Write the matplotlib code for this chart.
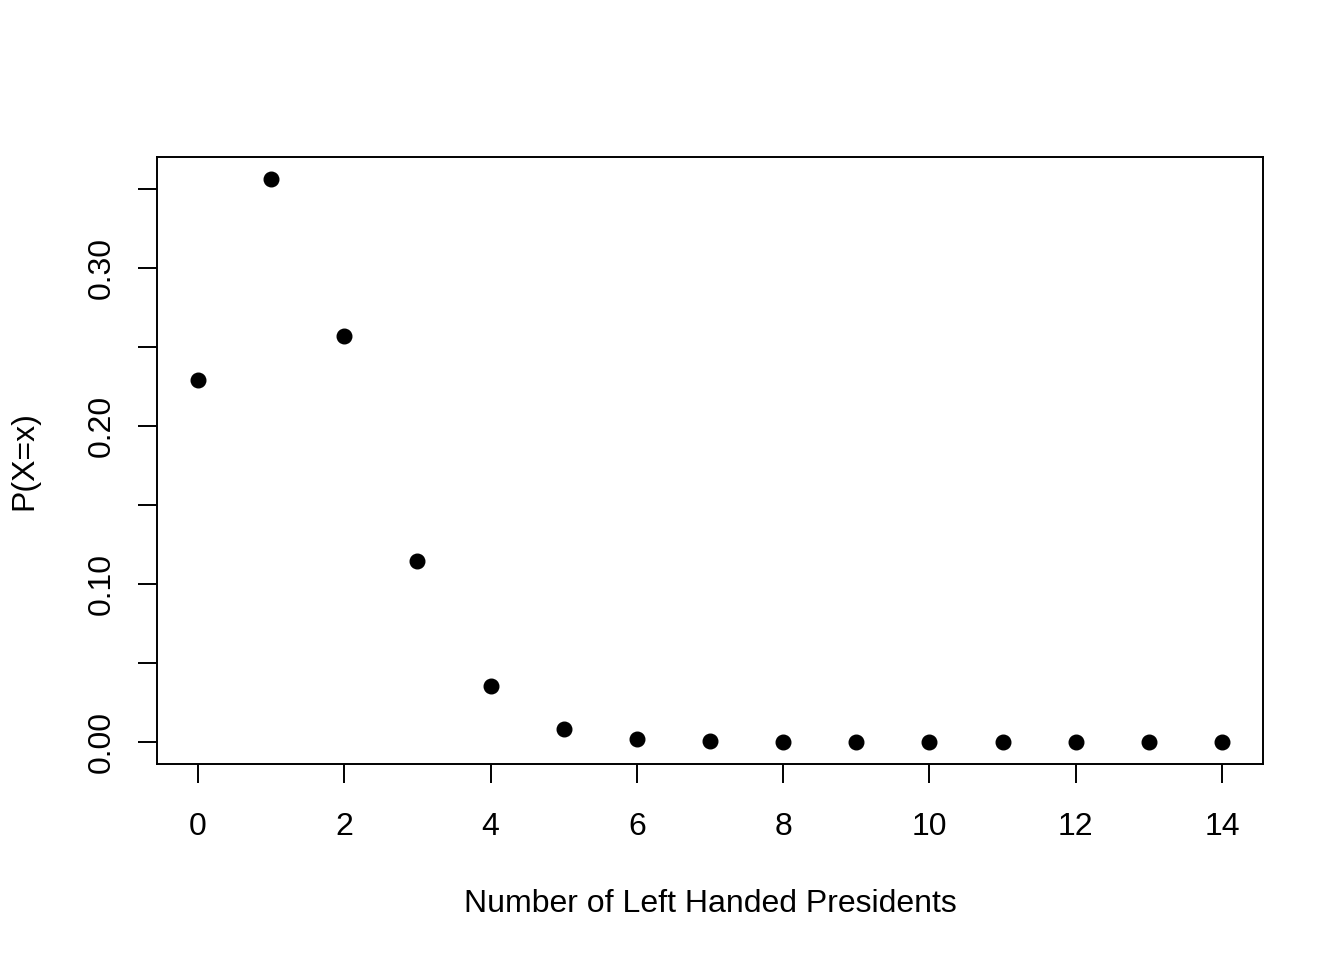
import matplotlib.pyplot as plt
import numpy as np

plt.rcParams['font.family'] = ['Liberation Sans', 'DejaVu Sans']

# значения
n_left = np.arange(0, 15)
prob = [0.2288, 0.3559, 0.2570, 0.1142, 0.0349, 0.0078, 0.0013, 0.0002,
        0.0000, 0.0000, 0.0000, 0.0000, 0.0000, 0.0000, 0.0000]
x_ticks = [0, 2, 4, 6, 8, 10, 12, 14]
y_ticks = [0.00, 0.05, 0.10, 0.15, 0.20, 0.25, 0.30, 0.35]
y_labels = ['0.00', '', '0.10', '', '0.20', '', '0.30', '']

fs = 23

fig = plt.figure(figsize=(13.44, 9.6), dpi=100)
ax = fig.add_axes([157 / 1344, 1 - 764 / 960, (1263 - 157) / 1344, (764 - 157) / 960])

ax.plot(n_left, prob, 'o', color='black', markersize=10.5)

# R-style 4% extension
xr = max(n_left) - min(n_left)
yr = max(prob) - min(prob)
ax.set_xlim(min(n_left) - 0.04 * xr, max(n_left) + 0.04 * xr)
ax.set_ylim(min(prob) - 0.04 * yr, max(prob) + 0.04 * yr)

ax.set_xticks(x_ticks)
ax.set_xticklabels([str(t) for t in x_ticks], fontsize=fs)
ax.set_yticks(y_ticks)
ax.set_yticklabels(y_labels, fontsize=fs, rotation=90, va='center')
ax.tick_params(length=13.8, width=1.4, pad=15)
ax.tick_params(axis='x', pad=20.8)

for s in ax.spines.values():
    s.set_linewidth(1.4)

ax.set_xlabel('Number of Left Handed Presidents', fontsize=fs, labelpad=34)
ax.set_ylabel('P(X=x)', fontsize=fs, labelpad=34)

fig.savefig('out.png', dpi=100)
